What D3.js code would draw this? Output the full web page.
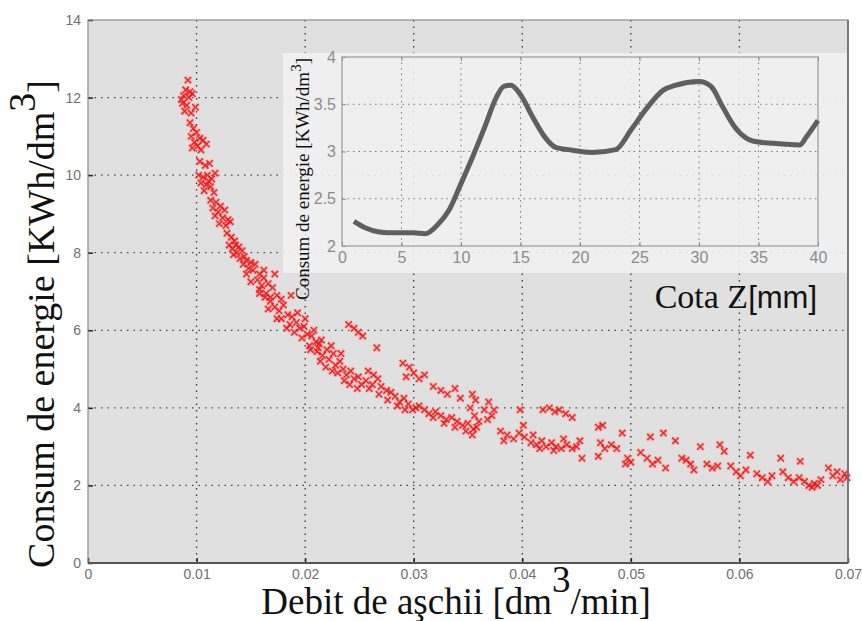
<!DOCTYPE html>
<html>
<head>
<meta charset="utf-8">
<script src="https://cdn.jsdelivr.net/npm/d3@7"></script>
<style>
  body { margin: 0; background: #fff; }
  svg { display: block; }
</style>
</head>
<body>
<div id="chart"></div>
<script>
// main scatter: [debit dm3/min, consum KWh/dm3]
const scatterPoints = [
  [0.0092,12.45],[0.0090,12.2],[0.0094,12.15],[0.0088,12.05],[0.0093,12.0],[0.0096,12.1],[0.0087,11.85],[0.0091,11.8],[0.0099,11.75],[0.0089,11.65],[0.0095,11.6],[0.0086,11.95],
  [0.0094,11.35],[0.0097,11.2],[0.0100,11.1],[0.0095,11.0],[0.0103,10.95],[0.0098,10.85],[0.0106,10.9],[0.0101,10.75],[0.0109,10.8],[0.0096,10.7],[0.0104,10.65],
  [0.0103,10.35],[0.0108,10.25],[0.0112,10.3],[0.0102,10.0],[0.0106,9.95],[0.0110,10.0],[0.0114,9.9],[0.0117,10.05],[0.0104,9.8],[0.0109,9.75],[0.0113,9.7],[0.0107,9.6],[0.0116,9.55],[0.0111,9.85],
  [0.0113,9.35],[0.0118,9.3],[0.0122,9.2],[0.0115,9.15],[0.0120,9.05],[0.0126,9.1],[0.0117,8.95],[0.0124,8.9],[0.0129,8.85],[0.0121,8.75],[0.0127,8.7],[0.0131,8.8],
  [0.0128,8.5],[0.0132,8.4],[0.0135,8.3],[0.0130,8.2],[0.0136,8.2],[0.0133,8.1],[0.0139,8.15],[0.0137,8.0],[0.0142,8.05],[0.0134,7.95],[0.0144,7.9],
  [0.0140,7.85],[0.0146,7.8],[0.0150,7.75],[0.0143,7.7],[0.0148,7.6],[0.0154,7.7],[0.0152,7.55],[0.0158,7.45],[0.0146,7.45],[0.0156,7.3],[0.0162,7.35],[0.0150,7.25],
  [0.0160,7.15],[0.0166,7.2],[0.0158,7.05],[0.0170,7.1],[0.0164,6.95],[0.0174,6.9],[0.0168,6.85],[0.0178,6.8],[0.0162,7.55],[0.0172,7.45],[0.0187,6.9],
  [0.0158,6.95],[0.0163,6.85],[0.0168,6.75],[0.0172,6.6],[0.0166,6.55],[0.0176,6.5],[0.0180,6.65],[0.0184,6.4],[0.0178,6.3],[0.0188,6.35],[0.0192,6.2],[0.0186,6.15],
  [0.0195,6.05],[0.0190,5.95],[0.0199,6.1],[0.0202,5.9],[0.0197,5.8],[0.0206,5.85],[0.0210,5.7],[0.0204,5.6],[0.0212,5.55],[0.0183,6.05],[0.0174,6.3],[0.0193,6.45],
  [0.0200,6.3],[0.0208,6.0],[0.0215,5.75],
  [0.0240,6.15],[0.0245,6.05],[0.0249,5.95],[0.0253,5.85],[0.0266,5.55],
  [0.0205,5.5],[0.0211,5.45],[0.0216,5.35],[0.0220,5.5],[0.0214,5.2],[0.0222,5.25],[0.0226,5.4],[0.0219,5.05],[0.0228,5.1],[0.0232,5.2],[0.0225,4.95],[0.0235,5.0],
  [0.0230,4.9],[0.0238,4.85],[0.0242,4.95],[0.0236,4.7],[0.0245,4.75],[0.0249,4.8],[0.0241,4.6],[0.0252,4.6],[0.0256,4.7],[0.0248,4.5],[0.0259,4.5],[0.0224,5.6],
  [0.0233,5.4],[0.0213,5.65],
  [0.0258,4.95],[0.0263,4.85],[0.0267,4.75],[0.0262,4.6],[0.0270,4.55],[0.0275,4.45],[0.0268,4.35],[0.0279,4.4],[0.0283,4.3],[0.0276,4.2],[0.0287,4.15],[0.0291,4.25],
  [0.0285,4.05],[0.0295,4.1],[0.0299,3.95],[0.0292,3.95],[0.0302,4.0],
  [0.0290,5.15],[0.0296,5.05],[0.0300,4.9],[0.0293,4.8],[0.0305,4.75],[0.0310,4.85],
  [0.0318,4.55],[0.0325,4.45],[0.0331,4.35],[0.0338,4.5],[0.0343,4.25],
  [0.0305,4.05],[0.0310,3.95],[0.0314,3.85],[0.0320,3.9],[0.0318,3.75],[0.0325,3.8],[0.0330,3.7],[0.0335,3.75],[0.0328,3.6],[0.0340,3.65],[0.0345,3.55],[0.0338,3.5],
  [0.0350,3.6],[0.0355,3.45],[0.0348,3.4],[0.0358,3.5],
  [0.0354,4.35],[0.0357,4.2],[0.0352,4.0],[0.0356,3.8],[0.0360,3.65],[0.0354,3.3],[0.0369,4.15],[0.0365,3.95],[0.0372,3.8],[0.0368,3.7],[0.0374,3.95],[0.0380,3.4],
  [0.0386,3.3],[0.0392,3.2],[0.0383,3.15],[0.0397,3.35],[0.0398,3.95],[0.0402,3.25],[0.0401,3.55],
  [0.0419,3.95],[0.0425,4.0],[0.0430,3.9],[0.0434,3.95],[0.0440,3.85],
  [0.0408,3.1],[0.0413,3.05],[0.0418,3.15],[0.0422,3.0],[0.0427,3.1],[0.0431,3.0],[0.0436,2.95],[0.0441,3.05],[0.0446,2.95],[0.0450,3.0],[0.0416,2.95],[0.0429,2.9],
  [0.0410,3.3],[0.0438,3.2],[0.0446,3.75],[0.0453,3.15],[0.0455,2.7],
  [0.0470,3.5],[0.0474,3.55],[0.0472,3.1],[0.0476,2.95],[0.0470,2.75],[0.0482,3.05],[0.0487,2.95],[0.0492,3.35],[0.0497,2.7],[0.0500,2.6],[0.0495,2.55],
  [0.0509,2.85],[0.0515,2.7],[0.0520,2.55],[0.0525,2.65],[0.0532,2.45],[0.0518,3.25],[0.0530,3.35],[0.0541,3.15],
  [0.0547,2.7],[0.0551,2.65],[0.0555,2.55],[0.0558,2.4],[0.0564,3.0],[0.0570,2.55],[0.0575,2.45],[0.0580,2.5],[0.0582,3.05],[0.0586,2.88],
  [0.0592,2.5],[0.0597,2.35],[0.0601,2.25],[0.0606,2.4],[0.0610,2.78],
  [0.0616,2.3],[0.0621,2.2],[0.0626,2.1],[0.0630,2.25],[0.0638,2.7],[0.0640,2.35],[0.0645,2.2],[0.0650,2.1],
  [0.0656,2.62],[0.0655,2.2],[0.0660,2.1],[0.0664,2.0],[0.0667,1.95],[0.0669,2.05],[0.0672,2.0],[0.0675,2.15],
  [0.0682,2.45],[0.0686,2.25],[0.0690,2.35],[0.0693,2.15],[0.0697,2.3],[0.0699,2.2]
];
const xTicks = [0, 0.01, 0.02, 0.03, 0.04, 0.05, 0.06, 0.07];
const xTickLabels = ["0", "0.01", "0.02", "0.03", "0.04", "0.05", "0.06", "0.07"];
const yTicks = [0, 2, 4, 6, 8, 10, 12, 14];

// inset: energy vs Z position
const insetZ = [1,2,3,4,5,6,7,8,9,10,11,12,13,13.6,14.2,15,16,17,18,19,21,23,24.3,25.5,27,28,30,31,32,33,34,35,37,38.5,39,40];
const insetE = [2.26,2.19,2.15,2.14,2.14,2.14,2.13,2.22,2.38,2.66,2.95,3.26,3.58,3.69,3.70,3.60,3.37,3.16,3.04,3.02,2.99,3.02,3.23,3.44,3.65,3.70,3.74,3.69,3.47,3.26,3.14,3.10,3.08,3.07,3.15,3.33];
const insetXTicks = [0, 5, 10, 15, 20, 25, 30, 35, 40];
const insetYTicks = [2, 2.5, 3, 3.5, 4];

const width = 862, height = 621;
const svg = d3.select("#chart").append("svg")
    .attr("width", width)
    .attr("height", height);

const x = d3.scaleLinear().domain([0, 0.07]).range([88, 848]);
const y = d3.scaleLinear().domain([0, 14]).range([563, 20]);

// plot background
svg.append("rect")
    .attr("x", x(0)).attr("y", y(14))
    .attr("width", x(0.07) - x(0)).attr("height", y(0) - y(14))
    .attr("fill", "#e0e0e0");

// dotted grid
svg.append("g").selectAll("line")
    .data(xTicks.slice(1, -1))
    .join("line")
    .attr("x1", d => x(d)).attr("x2", d => x(d))
    .attr("y1", y(14)).attr("y2", y(0))
    .attr("stroke", "#333").attr("stroke-width", 1.3)
    .attr("stroke-dasharray", "1.5,5");
svg.append("g").selectAll("line")
    .data(yTicks.slice(1, -1))
    .join("line")
    .attr("x1", x(0)).attr("x2", x(0.07))
    .attr("y1", d => y(d)).attr("y2", d => y(d))
    .attr("stroke", "#444").attr("stroke-width", 1.3)
    .attr("stroke-dasharray", "1.5,5");

// scatter markers: pink halo + red cross, like the blurred original
const cross = "M-3.2,-3.2L3.2,3.2M-3.2,3.2L3.2,-3.2";
svg.append("g").selectAll("path")
    .data(scatterPoints)
    .join("path")
    .attr("d", cross)
    .attr("transform", d => `translate(${x(d[0])},${y(d[1])})`)
    .attr("stroke", "#f6a8a8").attr("stroke-width", 4.2)
    .attr("fill", "none").attr("opacity", 0.6);
svg.append("g").selectAll("path")
    .data(scatterPoints)
    .join("path")
    .attr("d", cross)
    .attr("transform", d => `translate(${x(d[0])},${y(d[1])})`)
    .attr("stroke", "#ea0f0f").attr("stroke-width", 1.5)
    .attr("fill", "none").attr("opacity", 0.85);

// axes
const xAxis = svg.append("g")
    .attr("transform", `translate(0,${y(0)})`)
    .call(d3.axisBottom(x).tickValues(xTicks).tickFormat((d, i) => xTickLabels[i]).tickSize(-5).tickPadding(6));
const yAxis = svg.append("g")
    .attr("transform", `translate(${x(0)},0)`)
    .call(d3.axisLeft(y).tickValues(yTicks).tickSize(-5).tickPadding(7));
[xAxis, yAxis].forEach(g => {
    g.select(".domain").remove();
    g.selectAll(".tick line").attr("stroke", "#222").attr("stroke-width", 1.5);
    g.selectAll(".tick text")
        .attr("fill", "#707070")
        .style("font-family", "'Liberation Sans', Arial, sans-serif")
        .style("font-size", "14px");
});

// frame
svg.append("rect")
    .attr("x", x(0)).attr("y", y(14))
    .attr("width", x(0.07) - x(0)).attr("height", y(0) - y(14))
    .attr("fill", "none").attr("stroke", "#8a8a8a").attr("stroke-width", 1.2);
svg.append("line")
    .attr("x1", x(0)).attr("x2", x(0.07)).attr("y1", y(0)).attr("y2", y(0))
    .attr("stroke", "#555").attr("stroke-width", 2);
svg.append("line")
    .attr("x1", x(0.07)).attr("x2", x(0.07)).attr("y1", y(14)).attr("y2", y(0))
    .attr("stroke", "#666").attr("stroke-width", 1.5);

// axis titles
const serif = "'Liberation Serif', 'Times New Roman', serif";
const xTitle = svg.append("text")
    .attr("x", 456).attr("y", 614)
    .attr("text-anchor", "middle")
    .style("font-family", serif).style("font-size", "37px")
    .attr("fill", "#111");
xTitle.append("tspan").text("Debit de aşchii [dm");
xTitle.append("tspan").attr("dy", -22).text("3");
xTitle.append("tspan").attr("dy", 22).text("/min]");

const yTitle = svg.append("text")
    .attr("transform", "translate(54,324) rotate(-90)")
    .attr("text-anchor", "middle")
    .style("font-family", serif).style("font-size", "38px")
    .attr("fill", "#111");
yTitle.append("tspan").text("Consum de energie [KWh/dm");
yTitle.append("tspan").attr("dy", -19).text("3");
yTitle.append("tspan").attr("dy", 19).text("]");

// ---- inset ----
const xi = d3.scaleLinear().domain([0, 40]).range([342, 818]);
const yi = d3.scaleLinear().domain([2, 4]).range([246, 57]);

svg.append("rect")
    .attr("x", 283).attr("y", 53)
    .attr("width", 847 - 283).attr("height", 273 - 53)
    .attr("fill", "#f1f1f1").attr("opacity", 0.9);

const inset = svg.append("g");
inset.append("g").selectAll("line")
    .data(insetXTicks.slice(1, -1))
    .join("line")
    .attr("x1", d => xi(d)).attr("x2", d => xi(d))
    .attr("y1", yi(4)).attr("y2", yi(2))
    .attr("stroke", "#777").attr("stroke-width", 1)
    .attr("stroke-dasharray", "1.5,4");
inset.append("g").selectAll("line")
    .data(insetYTicks.slice(1, -1))
    .join("line")
    .attr("x1", xi(0)).attr("x2", xi(40))
    .attr("y1", d => yi(d)).attr("y2", d => yi(d))
    .attr("stroke", "#777").attr("stroke-width", 1)
    .attr("stroke-dasharray", "1.5,4");

const ixAxis = inset.append("g")
    .attr("transform", `translate(0,${yi(2)})`)
    .call(d3.axisBottom(xi).tickValues(insetXTicks).tickSize(-4).tickPadding(6));
const iyAxis = inset.append("g")
    .attr("transform", `translate(${xi(0)},0)`)
    .call(d3.axisLeft(yi).tickValues(insetYTicks).tickFormat(d3.format("")).tickSize(-4).tickPadding(6));
const ixTop = inset.append("g")
    .attr("transform", `translate(0,${yi(4)})`)
    .call(d3.axisTop(xi).tickValues(insetXTicks).tickSize(-4).tickFormat(""));
[ixAxis, iyAxis, ixTop].forEach(g => {
    g.select(".domain").remove();
    g.selectAll(".tick line").attr("stroke", "#888");
    g.selectAll(".tick text")
        .attr("fill", "#8c8c8c")
        .style("font-family", "'Liberation Sans', Arial, sans-serif")
        .style("font-size", "16px");
});
inset.append("rect")
    .attr("x", xi(0)).attr("y", yi(4))
    .attr("width", xi(40) - xi(0)).attr("height", yi(2) - yi(4))
    .attr("fill", "none").attr("stroke", "#999").attr("stroke-width", 1.2);

const insetLine = d3.line()
    .x((d, i) => xi(insetZ[i]))
    .y(d => yi(d))
    .curve(d3.curveMonotoneX);
inset.append("path")
    .datum(insetE)
    .attr("d", insetLine)
    .attr("fill", "none")
    .attr("stroke", "#5f5f5f")
    .attr("stroke-width", 5)
    .attr("stroke-linejoin", "round");

const iyTitle = inset.append("text")
    .attr("transform", "translate(309,179) rotate(-90)")
    .attr("text-anchor", "middle")
    .style("font-family", serif).style("font-size", "19px")
    .attr("fill", "#111");
iyTitle.append("tspan").text("Consum de energie [KWh/dm");
iyTitle.append("tspan").attr("dy", -8).style("font-size", "15px").text("3");
iyTitle.append("tspan").attr("dy", 8).text("]");

const ixTitle = inset.append("text")
    .attr("x", 817).attr("y", 308)
    .attr("text-anchor", "end")
    .attr("fill", "#111");
ixTitle.append("tspan").style("font-family", serif).style("font-size", "34px").text("Cota Z");
ixTitle.append("tspan").style("font-family", "'Liberation Sans', Arial, sans-serif").style("font-size", "31px").text("[mm]");
</script>
</body>
</html>
